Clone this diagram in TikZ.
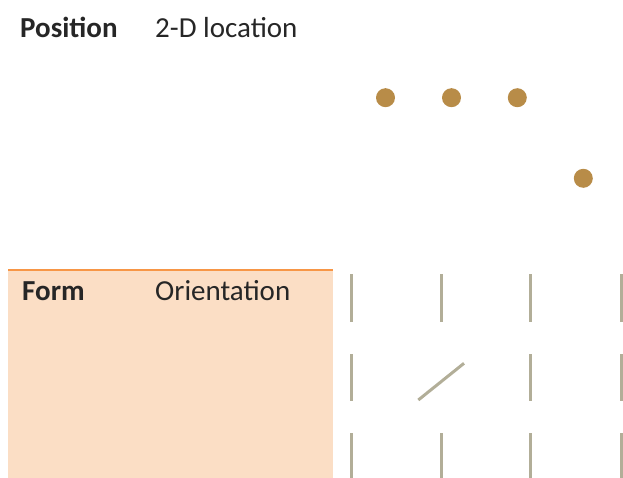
\documentclass[tikz,border=0pt]{standalone}
\usepackage{fontspec}
\setmainfont{Carlito}
\definecolor{peach}{RGB}{251,222,197}
\definecolor{orangeline}{RGB}{247,150,70}
\definecolor{gold}{RGB}{184,140,72}
\definecolor{stroke}{RGB}{178,174,152}
\begin{document}
\begin{tikzpicture}[x=1pt,y=-1pt,
  lbl/.style={anchor=base west,inner sep=0pt,font=\fontsize{29}{33}\selectfont,text=black!85},
  dotnode/.style={circle,fill=gold,minimum size=19pt,inner sep=0pt},
  tick/.style={draw=stroke,line width=3pt}]
\useasboundingbox (0,0) rectangle (623,478);
\fill[peach] (8,270) rectangle (333,478);
\draw[orangeline,line width=1.5pt] (8,270) -- (333,270);
\node[lbl,font=\fontsize{29}{33}\selectfont\bfseries] (pos) at (20,37.5) {Position};
\node[lbl] (loc) at (155,37.5) {2-D location};
\node[lbl,font=\fontsize{29}{33}\selectfont\bfseries] (form) at (22,300) {Form};
\node[lbl] (ori) at (155,300) {Orientation};
\node[dotnode] (d1) at (385.5,97.7) {};
\node[dotnode] (d2) at (451.5,97.7) {};
\node[dotnode] (d3) at (517.3,97.7) {};
\node[dotnode] (d4) at (583.3,178.3) {};
\foreach \x in {351,441.7,530.7,621.7}{
  \draw[tick] (\x,274) -- (\x,322);
  \draw[tick] (\x,433) -- (\x,480);
}
\foreach \x in {351,530.7,621.7}{
  \draw[tick] (\x,354) -- (\x,401);
}
\draw[tick] (418.3,400) -- (464,363.3);
\end{tikzpicture}
\end{document}
